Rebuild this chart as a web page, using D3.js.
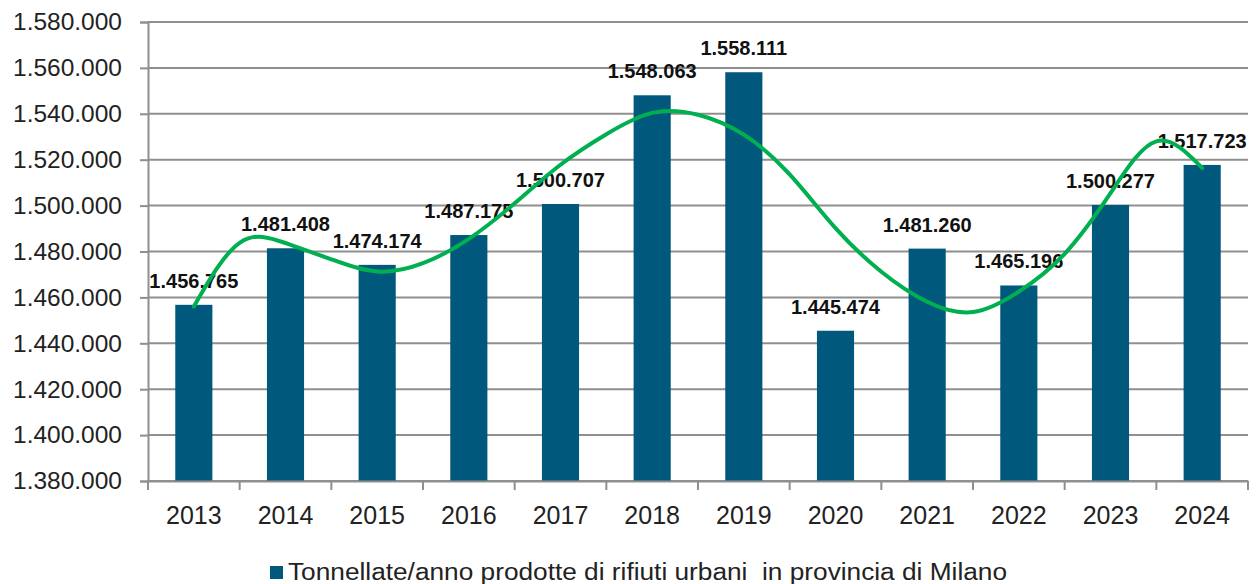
<!DOCTYPE html>
<html>
<head>
<meta charset="utf-8">
<script src="https://cdn.jsdelivr.net/npm/d3@7"></script>
<style>
    body { margin: 0; background: #ffffff; }
    svg { display: block; font-family: "Liberation Sans", Arial, sans-serif; }
</style>
</head>
<body>
<svg id="drawing_region"></svg>
<script>
// anni e tonnellate prodotte
const years = ['2013','2014','2015','2016','2017','2018','2019','2020','2021','2022','2023','2024']
const tonnes = [1456765, 1481408, 1474174, 1487175, 1500707, 1548063, 1558111, 1445474, 1481260, 1465196, 1500277, 1517723]

// linea di tendenza (ogni mezzo anno)
const trendYears = [2013, 2013.5, 2014, 2014.5, 2015, 2015.5, 2016, 2016.5, 2017, 2017.5, 2018, 2018.5,
    2019, 2019.5, 2020, 2020.5, 2021, 2021.5, 2022, 2022.5, 2023, 2023.5, 2024]
const trendValues = [1456000, 1483800, 1483700, 1476600, 1471300, 1474900, 1485500, 1501000, 1517800, 1531100, 1540400, 1539600,
    1530900, 1513600, 1490200, 1471200, 1458100, 1453600, 1462500, 1479000, 1505400, 1528000, 1516400]

const yTicks = [1380000, 1400000, 1420000, 1440000, 1460000, 1480000, 1500000, 1520000, 1540000, 1560000, 1580000]
const legendLabel = 'Tonnellate/anno prodotte di rifiuti urbani  in provincia di Milano'

const config = {
    width: 1257,
    height: 584,
    margin: {top: 22, left: 148, right: 9, bottom: 103}
}

const it = d3.formatLocale({decimal: ',', thousands: '.', grouping: [3], currency: ['€', '']})
const fmt = it.format(',d')

const svg = d3.select('#drawing_region')
    .attr('width', config.width)
    .attr('height', config.height)

const inner_width = config.width - config.margin.left - config.margin.right
const inner_height = config.height - config.margin.top - config.margin.bottom

const chart = svg.append('g')
    .attr('transform', `translate(${config.margin.left},${config.margin.top})`)

const xscale = d3.scaleBand().domain(years).range([0, inner_width])
const yscale = d3.scaleLinear().domain([1380000, 1580000]).range([inner_height, 0])
const xtrend = d3.scaleLinear()
    .domain([2013, 2024])
    .range([xscale('2013') + xscale.bandwidth() / 2, xscale('2024') + xscale.bandwidth() / 2])
const barWidth = xscale.bandwidth() * 0.405

const gridColor = '#8f8f8f'

//griglia orizzontale
chart.append('g')
    .selectAll('line').data(yTicks).enter()
    .append('line')
    .attr('x1', 0)
    .attr('x2', inner_width)
    .attr('y1', d => yscale(d))
    .attr('y2', d => yscale(d))
    .attr('stroke', gridColor)
    .attr('stroke-width', 2)

//asse y
const yaxis = d3.axisLeft(yscale).tickValues(yTicks).tickSize(8).tickPadding(18).tickFormat(fmt)
chart.append('g').call(yaxis)
    .call(g => g.select('.domain').attr('stroke', gridColor).attr('stroke-width', 2))
    .call(g => g.selectAll('.tick line').attr('stroke', gridColor).attr('stroke-width', 2))
    .call(g => g.selectAll('.tick text')
        .attr('fill', '#222')
        .attr('font-size', 24.5)
        .attr('font-family', '"Liberation Sans", Arial, sans-serif'))

//barre
chart.selectAll('rect.bar').data(years).enter()
    .append('rect')
    .attr('class', 'bar')
    .attr('x', (d, i) => xscale(d) + xscale.bandwidth() / 2 - barWidth / 2)
    .attr('y', (d, i) => yscale(tonnes[i]))
    .attr('width', barWidth)
    .attr('height', (d, i) => inner_height - yscale(tonnes[i]))
    .attr('fill', '#00587c')

//asse x
const xaxis = d3.axisBottom(xscale).tickSize(0).tickPadding(25)
const xg = chart.append('g').attr('transform', `translate(0,${inner_height})`).call(xaxis)
xg.select('.domain').attr('stroke', gridColor).attr('stroke-width', 2)
xg.selectAll('.tick text')
    .attr('fill', '#222')
    .attr('font-size', 25)
    .attr('font-family', '"Liberation Sans", Arial, sans-serif')
xg.selectAll('line.sep').data(years.map(d => xscale(d)).concat([inner_width])).enter()
    .append('line')
    .attr('class', 'sep')
    .attr('x1', d => d).attr('x2', d => d)
    .attr('y1', 0).attr('y2', 9)
    .attr('stroke', gridColor)
    .attr('stroke-width', 2)

//etichette dei valori
chart.selectAll('text.value').data(years).enter()
    .append('text')
    .attr('class', 'value')
    .attr('x', d => xscale(d) + xscale.bandwidth() / 2)
    .attr('y', (d, i) => yscale(tonnes[i]) - 17)
    .attr('text-anchor', 'middle')
    .attr('font-size', 20)
    .attr('font-weight', 'bold')
    .attr('fill', '#111')
    .text((d, i) => fmt(tonnes[i]))

//linea di tendenza
const trendLine = d3.line()
    .x(d => xtrend(d[0]))
    .y(d => yscale(d[1]))
    .curve(d3.curveNatural)
chart.append('path')
    .attr('d', trendLine(d3.zip(trendYears, trendValues)))
    .attr('fill', 'none')
    .attr('stroke', '#00b050')
    .attr('stroke-width', 4)
    .attr('stroke-linecap', 'round')

//legenda
const legend = svg.append('g').attr('transform', 'translate(270,566)')
legend.append('rect')
    .attr('width', 13).attr('height', 13)
    .attr('fill', '#00587c')
legend.append('text')
    .attr('x', 18)
    .attr('y', 14)
    .attr('font-size', 23)
    .attr('fill', '#222')
    .attr('textLength', 719)
    .attr('lengthAdjust', 'spacingAndGlyphs')
    .attr('xml:space', 'preserve')
    .style('white-space', 'pre')
    .text(legendLabel)
</script>
</body>
</html>
